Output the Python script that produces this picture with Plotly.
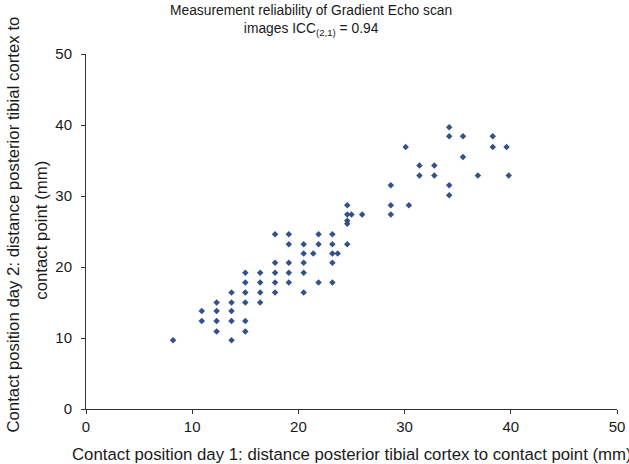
import plotly.graph_objects as go

# Contact position day 1 (x) and day 2 (y), mm
day1 = [34.2,
        34.2, 35.5, 38.3,
        30.1, 38.3, 39.6,
        35.5,
        31.4, 32.8,
        31.4, 32.8, 36.9, 39.8,
        28.7, 34.2,
        34.2,
        24.6, 28.7, 30.4,
        24.6, 25.0, 26.0, 28.7,
        24.6,
        24.6,
        17.8, 19.1, 21.9, 23.2,
        19.1, 20.5, 21.9, 23.2, 24.6,
        20.5, 21.4, 23.2, 23.7,
        17.8, 19.1, 20.5, 23.2,
        15.0, 16.4, 17.8, 19.1, 20.5,
        15.0, 16.4, 17.8, 19.1, 21.9, 23.2,
        13.7, 15.0, 16.4, 17.8, 20.5,
        12.3, 13.7, 15.0, 16.4,
        10.9, 12.3, 13.7,
        10.9, 12.3, 13.7, 15.0,
        12.3, 15.0,
        8.2, 13.7]
day2 = [39.7,
        38.4, 38.4, 38.4,
        36.9, 36.9, 36.9,
        35.5,
        34.3, 34.3,
        32.9, 32.9, 32.9, 32.9,
        31.5, 31.5,
        30.1,
        28.7, 28.7, 28.7,
        27.4, 27.4, 27.4, 27.4,
        26.5,
        26.1,
        24.6, 24.6, 24.6, 24.6,
        23.2, 23.2, 23.2, 23.2, 23.2,
        21.9, 21.9, 21.9, 21.9,
        20.6, 20.6, 20.6, 20.6,
        19.2, 19.2, 19.2, 19.2, 19.2,
        17.8, 17.8, 17.8, 17.8, 17.8, 17.8,
        16.4, 16.4, 16.4, 16.4, 16.4,
        15.0, 15.0, 15.0, 15.0,
        13.8, 13.8, 13.8,
        12.4, 12.4, 12.4, 12.4,
        10.9, 10.9,
        9.7, 9.7]

tick_vals = [0, 10, 20, 30, 40, 50]

title_text = "Measurement reliability of Gradient Echo scan<br>images ICC<sub>(2,1)</sub> = 0.94"
x_title = "Contact position day 1: distance posterior tibial cortex to contact point (mm)"
y_title_1 = "Contact position day 2: distance posterior tibial cortex to"
y_title_2 = "contact point (mm)"

FONT = "Liberation Sans, Arial, sans-serif"
TXT = "#1a1a1a"

fig = go.Figure()
fig.add_trace(go.Scatter(
    x=day1, y=day2, mode="markers",
    marker=dict(symbol="diamond", size=5, color="#34518a", line=dict(width=0)),
    showlegend=False, hoverinfo="x+y"))

W, H = 629, 464
L, R, T, B = 86, 4, 54, 55
pw, ph = W - L - R, H - T - B

def px_x(p):
    return (p - L) / pw

def px_y(p):
    return (H - B - p) / ph

axis_common = dict(
    range=[0, 50], tickvals=tick_vals, showgrid=False, zeroline=False,
    showline=True, linecolor="#333333", linewidth=1,
    ticks="outside", ticklen=4, tickcolor="#333333", tickwidth=1,
    tickfont=dict(family=FONT, size=15, color=TXT), fixedrange=True,
    ticklabeloverflow="allow",
)

fig.update_layout(
    width=W, height=H,
    margin=dict(l=L, r=R, t=T, b=B, pad=0),
    paper_bgcolor="white", plot_bgcolor="white",
    font=dict(family=FONT, color=TXT),
    xaxis=dict(**axis_common),
    yaxis=dict(**axis_common, ticklabelstandoff=6),
    annotations=[
        dict(text=title_text, xref="paper", yref="paper",
             x=px_x(314.5), y=px_y(21), xanchor="center", yanchor="middle",
             showarrow=False, font=dict(family=FONT, size=13.8, color=TXT)),
        dict(text=x_title, xref="paper", yref="paper",
             x=px_x(70), y=px_y(454), xanchor="left", yanchor="middle",
             showarrow=False, font=dict(family=FONT, size=16.8, color=TXT)),
        dict(text=y_title_1, xref="paper", yref="paper",
             x=px_x(11.5), y=px_y(225), xanchor="center", yanchor="middle",
             textangle=-90, showarrow=False,
             font=dict(family=FONT, size=16.8, color=TXT)),
        dict(text=y_title_2, xref="paper", yref="paper",
             x=px_x(40), y=px_y(230), xanchor="center", yanchor="middle",
             textangle=-90, showarrow=False,
             font=dict(family=FONT, size=16.8, color=TXT)),
    ],
)

fig.write_html("out.html")
